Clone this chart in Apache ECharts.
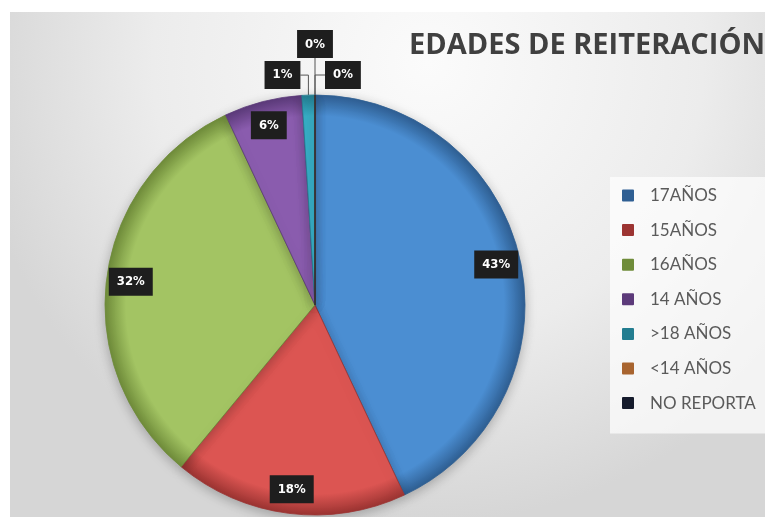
<!DOCTYPE html>
<html>
<head>
<meta charset="utf-8">
<script src="https://cdn.jsdelivr.net/npm/echarts@6/dist/echarts.min.js"></script>
<style>
html,body{margin:0;padding:0;background:#fff;}
#chart{width:765px;height:517px;}
</style>
</head>
<body>
<div id="chart"></div>
<script>
const categories = ['17AÑOS', '15AÑOS', '16AÑOS', '14 AÑOS', '>18 AÑOS', '<14 AÑOS', 'NO REPORTA'];
const percentValues = [43, 18, 32, 6, 1, 0, 0];
const sliceColors = ['#4b8ed2', '#dc5552', '#a3c463', '#8a5cae', '#38b0c8', '#e8995a', '#2b3552'];
const edgeColors = ['#2f5f93', '#9c3432', '#6f8c3a', '#5c3a7a', '#237d90', '#a8642f', '#151b2c'];
const titleText = 'EDADES DE REITERACIÓN';

const CX = 315, CY = 305, R = 210;

const chart = echarts.init(document.getElementById('chart'));

function sliceStyle(i) {
  return {
    color: {
      type: 'radial', x: CX, y: CY, r: R, global: true,
      colorStops: [
        { offset: 0, color: sliceColors[i] },
        { offset: 0.9, color: sliceColors[i] },
        { offset: 1, color: edgeColors[i] }
      ]
    },
    borderColor: edgeColors[i],
    borderWidth: 0.8
  };
}

const labelBox = {
  color: '#ffffff',
  fontWeight: 'bold',
  fontSize: 13,
  fontFamily: 'DejaVu Sans Condensed, Liberation Sans, sans-serif',
  backgroundColor: '#1e1e1e',
  padding: [8, 8, 7, 8]
};

const mainData = categories.map((name, i) => ({
  name: name,
  value: percentValues[i],
  itemStyle: sliceStyle(i),
  label: { show: percentValues[i] <= 1 }
}));

const labelData = categories.map((name, i) => ({
  name: name,
  value: percentValues[i],
  label: { show: percentValues[i] > 1 }
}));

// small outside labels: offsets from the slice's own anchor point on the rim
function smallLabelLayout(params) {
  const pts = params.labelLinePoints;
  if (!pts) return {};
  const a = pts[0];
  if (params.dataIndex === 4) {
    const p = [a[0], a[1] - 20];
    return { x: p[0] - 8, y: p[1], align: 'right', verticalAlign: 'middle',
      labelLinePoints: [a, p, [p[0] - 8, p[1]]] };
  }
  if (params.dataIndex === 5) {
    const p = [a[0], a[1] - 37];
    return { x: p[0], y: p[1], align: 'center', verticalAlign: 'bottom',
      labelLinePoints: [a, p, p] };
  }
  if (params.dataIndex === 6) {
    const p = [a[0], a[1] - 20];
    return { x: p[0] + 10, y: p[1], align: 'left', verticalAlign: 'middle',
      labelLinePoints: [a, p, [p[0] + 10, p[1]]] };
  }
  return {};
}

chart.setOption({
  backgroundColor: '#ffffff',
  animation: false,
  graphic: [
    {
      type: 'rect',
      shape: { x: 10, y: 12, width: 760, height: 510 },
      style: {
        fill: {
          type: 'radial', x: 0.55, y: 0.1, r: 0.9,
          colorStops: [
            { offset: 0, color: '#fbfbfb' },
            { offset: 0.6, color: '#ececec' },
            { offset: 1, color: '#d6d6d6' }
          ]
        }
      },
      z: -10
    }
  ],
  title: {
    text: titleText,
    left: 404,
    top: 26,
    textStyle: {
      fontFamily: 'Open Sans, sans-serif',
      fontWeight: 'bold',
      fontSize: 29,
      color: '#404040'
    }
  },
  legend: {
    orient: 'vertical',
    left: 610,
    top: 177,
    padding: [10, 40, 22, 12],
    backgroundColor: 'rgba(255,255,255,0.7)',
    itemWidth: 10,
    itemHeight: 10,
    itemGap: 17.6,
    icon: 'rect',
    data: categories,
    textStyle: {
      fontFamily: 'Lato, sans-serif',
      fontSize: 17,
      color: '#5a5a5a',
      padding: [0, 0, 0, 12]
    }
  },
  series: [
    {
      type: 'pie',
      center: [CX, CY],
      radius: R,
      startAngle: 90,
      clockwise: true,
      avoidLabelOverlap: false,
      stillShowZeroSum: true,
      minShowLabelAngle: 0,
      itemStyle: {
        shadowBlur: 12,
        shadowColor: 'rgba(0,0,0,0.25)',
        shadowOffsetY: 3
      },
      label: Object.assign({
        position: 'outside',
        formatter: p => Math.round(p.value) + '%'
      }, labelBox),
      labelLine: {
        show: true,
        length: 14,
        length2: 8,
        lineStyle: { color: '#555', width: 1 }
      },
      labelLayout: smallLabelLayout,
      emphasis: { disabled: true },
      data: mainData
    },
    {
      type: 'pie',
      center: [CX, CY],
      radius: [R * 0.74, R],
      startAngle: 90,
      clockwise: true,
      silent: true,
      itemStyle: { color: 'rgba(0,0,0,0)', borderWidth: 0 },
      label: Object.assign({
        position: 'inside',
        formatter: p => Math.round(p.value) + '%'
      }, labelBox),
      labelLine: { show: false },
      emphasis: { disabled: true },
      legendHoverLink: false,
      data: labelData
    }
  ]
});
</script>
</body>
</html>
